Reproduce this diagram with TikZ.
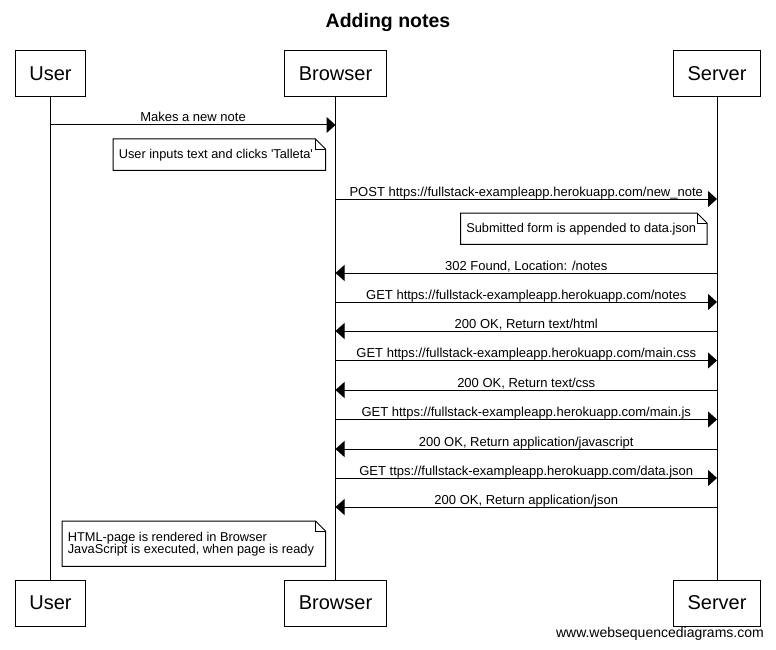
\documentclass[tikz,border=0pt]{standalone}
\usepackage{fontspec}
\setmainfont{Liberation Sans}
\usetikzlibrary{arrows.meta}

% note outline with a folded top-right corner
\newcommand\dogear[1]{%
  \draw[notefr] (#1.north west) -- ([xshift=-10pt]#1.north east)
    -- ([yshift=-10pt]#1.north east) -- (#1.south east)
    -- (#1.south west) -- cycle;
  \draw[notefr] ([xshift=-10pt]#1.north east) |- ([yshift=-10pt]#1.north east);
}

\begin{document}
\begin{tikzpicture}[x=1pt,y=-1pt,
  actor/.style={draw, line width=1pt, fill=white,
    font=\fontsize{20}{24}\selectfont, inner xsep=14pt, inner ysep=0pt,
    minimum height=46pt},
  life/.style={line width=1pt},
  msg/.style={line width=1pt, -{Triangle[length=9pt,width=16pt]}},
  lbl/.style={font=\fontsize{13}{15}\selectfont, anchor=base, inner sep=0pt},
  noteframe/.style={anchor=north east, inner sep=0pt},
  notetext/.style={font=\fontsize{12.8}{12}\selectfont, align=left,
    anchor=west, inner sep=0pt, xshift=5.5pt},
  notefr/.style={line width=1pt, line join=miter},
]
\useasboundingbox (0,0) rectangle (776,650);

% title
\node[font=\bfseries\fontsize{19.5}{22}\selectfont, anchor=base, inner sep=0pt]
  (title) at (388,28) {Adding notes};

% participants, top and bottom
\node[actor] (uT) at (50.5,74) {User};
\node[actor] (bT) at (335.5,74) {Browser};
\node[actor] (sT) at (717,74) {Server};
\node[actor] (uB) at (50.5,603) {User};
\node[actor] (bB) at (335.5,603) {Browser};
\node[actor] (sB) at (717,603) {Server};

% lifelines
\draw[life] (uT.south) -- (uB.north);
\draw[life] (bT.south) -- (bB.north);
\draw[life] (sT.south) -- (sB.north);

% messages
\draw[msg] (uT|-0,125) -- (bT|-0,125)
  node[lbl, pos=0.5, yshift=3pt] {Makes a new note};

\node[noteframe, minimum width=212pt, minimum height=31pt]
  (n1) at ([xshift=-10pt]bT|-0,139) {};
\dogear{n1}
\node[notetext] (t1) at (n1.west) {User inputs text and clicks \textquotesingle Talleta\textquotesingle};

\draw[msg] (bT|-0,199) -- (sT|-0,199)
  node[lbl, pos=0.5, yshift=3pt] {POST https://fullstack-exampleapp.herokuapp.com/new\_note};

\node[noteframe, minimum width=246pt, minimum height=31pt]
  (n2) at ([xshift=-10pt]sT|-0,213) {};
\dogear{n2}
\node[notetext] (t2) at (n2.west) {Submitted form is appended to data.json};

\draw[msg] (sT|-0,273) -- (bT|-0,273)
  node[lbl, pos=0.5, yshift=3pt] {302 Found, Location: /notes};
\draw[msg] (bT|-0,302) -- (sT|-0,302)
  node[lbl, pos=0.5, yshift=3pt] {GET https://fullstack-exampleapp.herokuapp.com/notes};
\draw[msg] (sT|-0,331) -- (bT|-0,331)
  node[lbl, pos=0.5, yshift=3pt] {200 OK, Return text/html};
\draw[msg] (bT|-0,360.5) -- (sT|-0,360.5)
  node[lbl, pos=0.5, yshift=3pt] {GET https://fullstack-exampleapp.herokuapp.com/main.css};
\draw[msg] (sT|-0,390) -- (bT|-0,390)
  node[lbl, pos=0.5, yshift=3pt] {200 OK, Return text/css};
\draw[msg] (bT|-0,419.5) -- (sT|-0,419.5)
  node[lbl, pos=0.5, yshift=3pt] {GET https://fullstack-exampleapp.herokuapp.com/main.js};
\draw[msg] (sT|-0,449) -- (bT|-0,449)
  node[lbl, pos=0.5, yshift=3pt] {200 OK, Return application/javascript};
\draw[msg] (bT|-0,478) -- (sT|-0,478)
  node[lbl, pos=0.5, yshift=3pt] {GET ttps://fullstack-exampleapp.herokuapp.com/data.json};
\draw[msg] (sT|-0,507) -- (bT|-0,507)
  node[lbl, pos=0.5, yshift=3pt] {200 OK, Return application/json};

\node[noteframe, minimum width=263pt, minimum height=45pt]
  (n3) at ([xshift=-10pt]bT|-0,521) {};
\dogear{n3}
\node[notetext] (t3) at (n3.west)
  {HTML-page is rendered in Browser\\JavaScript is executed, when page is ready};

% footer
\node[font=\fontsize{14}{16}\selectfont, anchor=base east, inner sep=0pt]
  (footer) at (764,637) {www.websequencediagrams.com};
\end{tikzpicture}
\end{document}
